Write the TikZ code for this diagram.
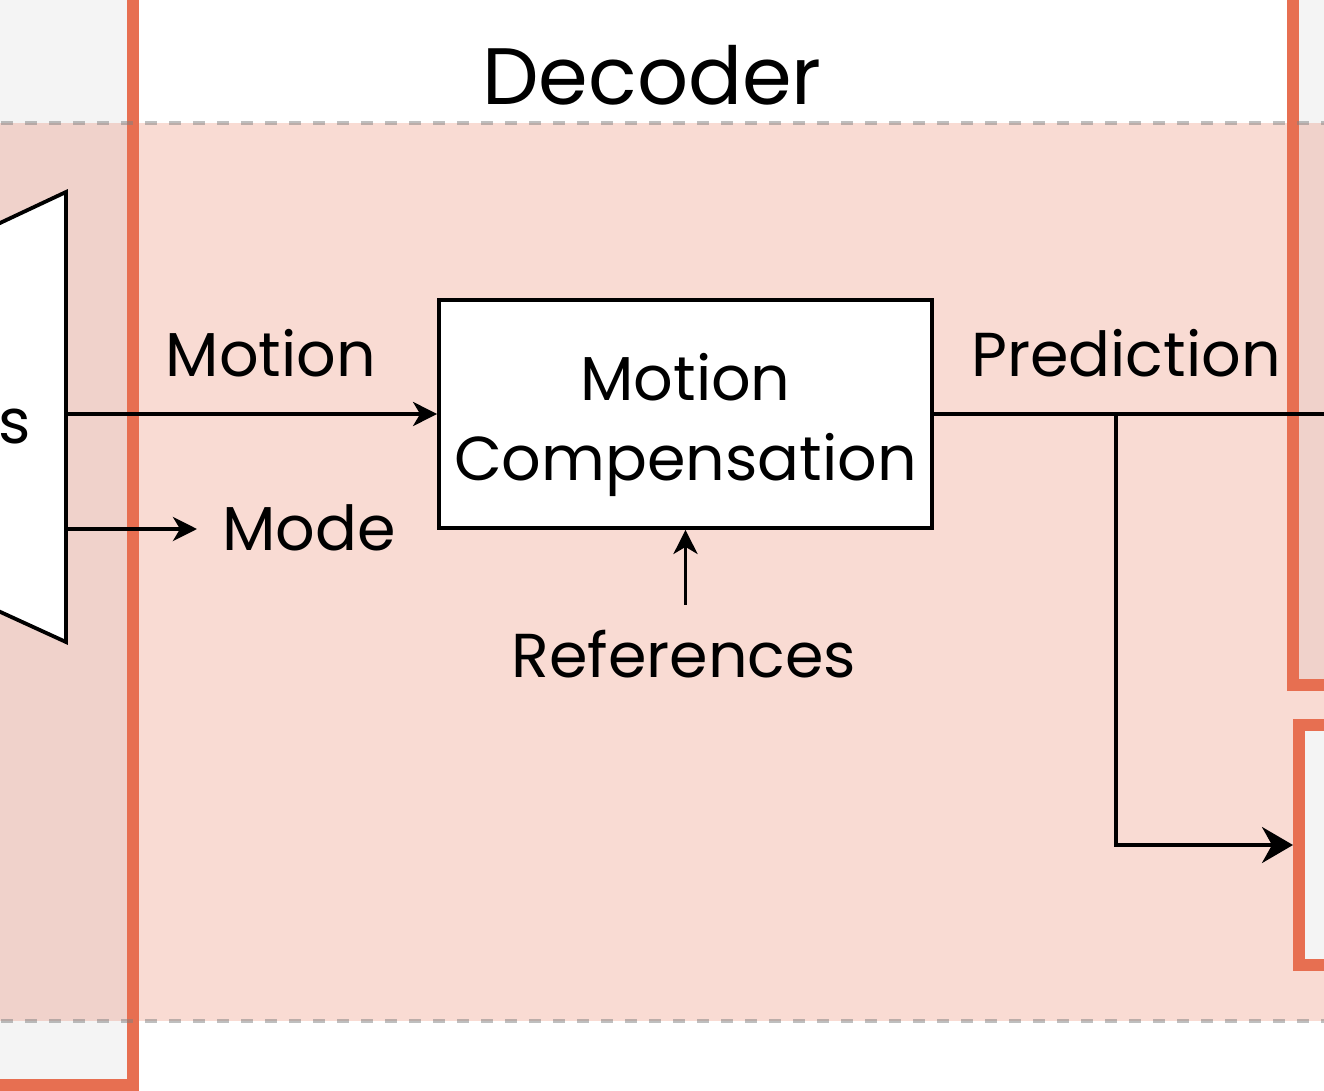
\documentclass[tikz,border=0pt]{standalone}
\usepackage{fontspec}
\setmainfont{Poppins}
\usetikzlibrary{arrows.meta}
\definecolor{orng}{RGB}{231,111,81}
\definecolor{lgray}{RGB}{244,244,244}
\definecolor{dgray}{RGB}{128,128,128}
\begin{document}
\begin{tikzpicture}[x=1pt,y=-1pt,
  arr/.style={line width=3.8pt, -{Stealth[length=24pt,width=24pt,inset=7pt]}},
  bigarr/.style={line width=3.8pt, -{Stealth[length=31pt,width=36pt,inset=10pt]}},
  plain/.style={line width=3.8pt},
  lbl/.style={font=\fontsize{62}{80}\selectfont, inner sep=0pt},
  cont/.style={draw=orng, line width=12pt, line join=miter},
  band/.style={draw=dgray, draw opacity=0.5, line width=4pt, dash pattern=on 12pt off 12pt},
  ]
\useasboundingbox (0,0) rectangle (1324,1091);
% container fills
\fill[lgray] (-30,-30) rectangle (133,1085);
\fill[lgray] (1293,-30) rectangle (1360,685);
% decoder band
\fill[orng, fill opacity=0.25] (-30,123) rectangle (1360,1021);
% container borders
\draw[cont] (-30,1085) -- (133,1085) -- (133,-30);
\draw[cont] (1293,-30) -- (1293,685) -- (1360,685);
% dashed band borders
\draw[band] (1,123) -- (1340,123);
\draw[band] (1,1021) -- (1340,1021);
% bottom-right container
\node[cont, fill=lgray, minimum width=220pt, minimum height=240pt, anchor=west, inner sep=0pt] (rb) at (1293,845) {};
% trapezoid (cut off at left)
\filldraw[fill=white, draw=black, line width=3.8pt, line join=miter] (-100,270) -- (66,192) -- (66,642) -- (-100,566) -- cycle;
\node[lbl, anchor=base east] (strunc) at (31,443) {s};
% title
\node[font=\fontsize{80}{96}\selectfont, anchor=base, inner sep=0pt] (title) at (652,105) {Decoder};
% motion compensation
\node[draw, fill=white, line width=3.8pt, minimum width=493pt, minimum height=228pt, align=center, lbl] (mc) at (685.5,414) {\rule{0pt}{70pt}Motion\\Compensation};
% labels
\node[lbl, anchor=base] (motionlbl) at (271,376) {Motion};
\node[lbl, anchor=base west] (mode) at (222,550) {Mode};
\node[lbl, anchor=base, outer ysep=25pt] (ref) at (684,677) {References};
\node[lbl, anchor=base] (pred) at (1126,376) {Prediction};
% connectors
\coordinate (tm) at (66,414);
\coordinate (tmode) at (66,529);
\coordinate (pend) at (1340,414);
\coordinate (br) at (1116,414);
\draw[arr] (tm) -- (mc.west);
\draw[arr, shorten >=25pt] (tmode) -- (tmode -| mode.west);
\draw[arr] (mc.south |- ref.north) -- (mc.south);
\draw[plain] (mc.east) -- (pend);
\draw[bigarr] (br) |- (rb.west);
\end{tikzpicture}
\end{document}
